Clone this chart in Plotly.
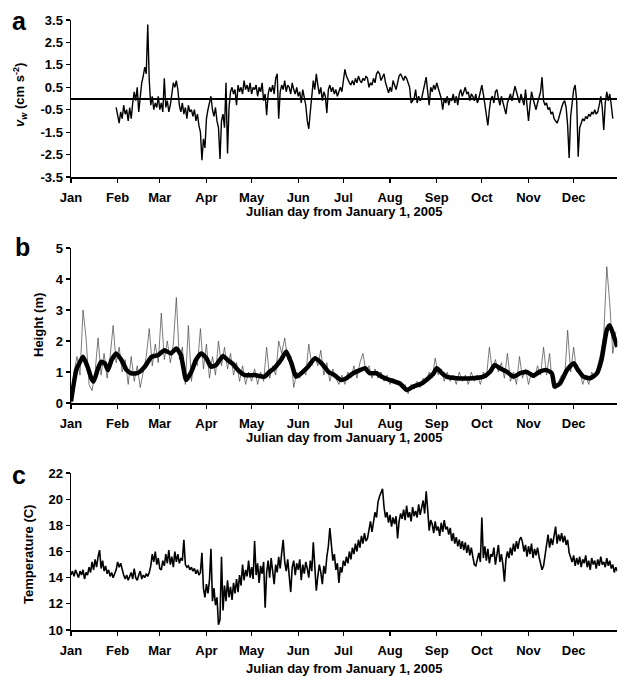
import plotly.graph_objects as go

# ---------------- data ----------------
months = ["Jan", "Feb", "Mar", "Apr", "May", "Jun", "Jul", "Aug", "Sep", "Oct", "Nov", "Dec"]
month_start_days = [0, 31, 59, 90, 120, 151, 181, 212, 243, 273, 304, 334]

# panel a: v_w (cm s^-2), daily values from day 30
vw_start_day = 30
vw_values = [
    -0.4, -0.8, -1.1, -0.6, -0.9, -0.3, -0.7, -0.5, -1.0, -0.4,
    -0.9, -0.2, 0.3, -0.1, 0.5, -0.6, 0.2, 0.7, 1.0, 1.4,
    1.1, 3.3, 0.8, -0.3, 0.1, -0.5, -0.2, -0.4, 0.1, -0.5,
    -0.2, -0.6, 0.9, -0.4, -0.1, -0.6, -0.3, 0.2, 0.7, 0.5,
    0.8, 0.4, -0.3, -0.6, -0.2, -0.7, -0.4, -0.9, -0.3, -0.6,
    -0.5, -0.8, -0.5, -1.0, -0.7, -1.2, -1.5, -2.75, -1.8, -2.2,
    -0.9, -0.5, -0.2, 0.1, -0.5, -0.8, -0.4, -1.0, -1.3, -2.7,
    -1.0, -0.7, -1.3, 0.7, -2.45, -0.4, 0.3, 0.5, 0.2, 0.4,
    -0.3, 0.6, 0.3, 0.5, 0.2, 0.8, 0.4, 0.6, 0.3, 0.7,
    0.2, 0.5, 0.4, 0.6, 0.1, 0.5, 0.3, 0.7, -0.1, 0.2,
    -0.75, 0.2, 0.5, 0.3, 0.6, 0.2, 0.9, 1.1, -0.9, 0.3,
    0.6, 0.4, 0.8, 0.3, 0.6, 0.5, 0.2, 0.7, 0.4, 0.2,
    0.5, 0.1, 0.3, -0.2, 0.4, 0.1, -0.3, -1.0, -1.35, -0.6,
    0.2, 0.8, 0.4, 1.1, 0.6, 0.2, 0.5, -0.1, 0.3, 0.1,
    -0.65, 0.4, 0.6, 0.3, 0.5, 0.2, 0.4, 0.1, 0.3, 0.5,
    0.3, 0.9, 1.3, 1.0, 0.8, 0.7, 0.6, 0.8, 0.6, 0.9,
    0.7, 1.0, 0.8, 0.7, 0.9, 0.8, 1.0, 0.9,
    0.5, 0.7, 0.6, 0.9, 0.7, 1.1, 1.2, 1.1, 0.8, 1.0,
    1.1, 0.7, 0.4, 0.25, 0.5, 0.3, 0.8, 0.6, 0.4, 0.7,
    1.0, 1.1, 0.9, 0.8, 1.0, 0.9, 0.7, 0.5, -0.2, -0.1,
    0.0, 0.4, -0.2, 0.1, -0.1, 0.0, 0.3, 0.7, 0.95, 0.3,
    -0.3, 0.5, 0.3, 0.6, 0.4, 0.7, 0.5, 0.2, 0.0, -0.5,
    0.0, -0.2, 0.1, -0.3, 0.0, -0.1, 0.2, -0.2, 0.1, -0.3,
    0.2, 0.4, 0.1, 0.3, 0.5, 0.2, 0.3, -0.1, 0.2,
    0.1, -0.1, 0.2, -0.2, 0.0, 0.3, 0.6, 0.2, -0.3, -0.6,
    -1.2, -0.5, 0.0, 0.1, -0.2, 0.3, 0.4, 0.0, -0.3, 0.1,
    -0.2, -0.4, -0.7, -0.2, 0.0, 0.2, -0.1, 0.3, 0.55, 0.3,
    0.1, -0.2, 0.2, -0.1, -0.3, 0.4, -0.5, -1.0, -0.3, 0.3,
    0.0, -0.2, -0.5, -0.2, 0.1, 0.3, 0.95, -0.1, -0.3, -0.2,
    -0.5, -0.4, -0.7, -0.6, -0.9, -1.0, -1.1, -0.9, -0.6, -0.4,
    -0.2, -0.1, -0.4, -1.2, -2.65, -0.8, -0.2, 0.4, 0.6, -0.1,
    -2.6, -1.3, -1.1, -0.9, -1.0, -0.8, -0.9, -0.7, -0.8, -0.6,
    -0.7, -0.5, -0.7, -0.6, -0.3, 0.1, -0.4, -1.4, -0.2, 0.3,
    -0.1, 0.2, -0.3, -0.9,
]

# panel b: height (m), raw record every 2 days and smoothed curve
height_step = 2
height_values = [
    0.0, 1.0, 1.5, 0.9, 3.0, 2.1, 0.6, 0.4, 1.0, 2.1,
    0.9, 1.6, 0.8, 1.5, 2.5, 1.3, 1.8, 1.0, 1.4, 0.6,
    1.5, 0.7, 1.2, 0.5, 1.0, 1.5, 2.4, 1.2, 1.9, 1.3,
    2.9, 1.4, 2.0, 1.3, 1.9, 3.4, 1.4, 1.8, 0.6, 2.5,
    0.7, 1.4, 1.2, 2.4, 1.1, 1.9, 0.8, 1.5, 0.9, 2.0,
    1.2, 1.8, 1.1, 1.6, 0.9, 1.3, 0.7, 1.2, 0.6, 1.0,
    0.7, 1.1, 0.6, 1.0, 0.7, 1.8, 0.8, 1.2, 0.9, 2.0,
    1.6, 2.1, 1.4, 1.5, 0.5, 1.0, 0.8, 1.1, 0.9, 1.9,
    1.2, 1.5, 1.2, 1.7, 0.9, 1.3, 0.7, 1.1, 0.8, 0.6,
    0.9, 0.6, 1.0, 0.8, 1.2, 0.8, 1.3, 1.6, 1.0, 1.2,
    0.8, 1.1, 0.8, 1.0, 0.7, 0.9, 0.6, 0.8, 0.6, 0.7,
    0.5, 0.6, 0.3, 0.6, 0.45, 0.7, 0.5, 0.8, 0.7, 1.0,
    0.8, 1.45, 0.9, 1.1, 0.7, 1.0, 0.7, 0.9, 0.6, 1.0,
    0.7, 0.9, 0.6, 1.0, 0.7, 0.9, 0.6, 1.0, 0.8, 1.8,
    1.0, 1.4, 1.0, 1.3, 0.8, 1.6, 0.7, 1.0, 0.6, 1.5,
    0.8, 1.1, 0.6, 1.0, 0.8, 1.2, 0.9, 1.8, 0.9, 1.6,
    0.5, 0.45, 0.7, 0.9, 0.8, 2.35, 1.0, 1.8, 1.0, 1.1,
    0.6, 0.9, 0.6, 1.0, 0.8, 1.2, 1.6, 2.2, 4.4, 3.2,
    1.6, 2.3,
]
height_smooth_days = [
    0, 3.5, 6, 8, 11, 13.5, 15, 18, 20, 22.5,
    24.5, 27, 30, 33.5, 37, 40, 43.5, 45.5, 49, 53.5,
    58, 62, 66.5, 70, 73, 76.5, 80, 83, 86.5, 90,
    93, 96.5, 101, 104, 107.5, 111, 115.5, 122, 128.5, 132,
    135, 139.5, 143, 146.5, 149.5, 153, 157.5, 162, 166.5, 171,
    175, 179.5, 183, 187.5, 192, 195.5, 198.5, 203, 206.5, 212,
    218.5, 223, 227.5, 233, 237.5, 241, 243, 246.5, 249.5, 256,
    267, 274, 278.5, 281.5, 285, 289.5, 294, 298.5, 303, 307,
    311.5, 316, 319.5, 321.5, 325, 329.5, 334, 337, 340.5, 345,
    349.5, 352.5, 356, 358, 361.5, 363,
]
height_smooth_values = [
    0.05, 1.06, 1.33, 1.49, 1.17, 0.80, 0.69, 1.12, 1.33, 1.28,
    1.06, 1.39, 1.60, 1.39, 1.06, 0.96, 0.96, 1.00, 1.17, 1.49,
    1.55, 1.70, 1.60, 1.76, 1.55, 0.74, 1.01, 1.39, 1.60, 1.44,
    1.17, 1.23, 1.52, 1.39, 1.26, 1.06, 0.90, 0.90, 0.85, 1.01,
    1.12, 1.39, 1.66, 1.28, 0.85, 0.96, 1.17, 1.44, 1.28, 1.01,
    0.90, 0.74, 0.80, 0.96, 1.06, 1.12, 0.96, 0.96, 0.85, 0.74,
    0.63, 0.42, 0.53, 0.63, 0.80, 0.96, 1.12, 0.96, 0.85, 0.80,
    0.80, 0.85, 1.01, 1.23, 1.12, 1.01, 0.85, 0.96, 1.00, 0.88,
    1.01, 1.06, 0.96, 0.53, 0.63, 1.06, 1.28, 1.06, 0.85, 0.80,
    0.96, 1.39, 2.35, 2.51, 2.03, 1.81,
]

# panel c: temperature (C), daily from day 0
temp_start_day = 0
temp_values = [
    14.2, 14.5, 14.1, 14.6, 14.3, 14.0, 14.5, 14.2, 14.6, 13.9,
    14.4, 14.2, 14.8, 14.4, 15.2, 14.6, 15.4, 14.8, 15.6, 16.1,
    14.7, 15.3, 14.5, 14.9, 14.3, 14.6, 14.1, 14.4, 14.0, 14.3,
    14.6, 15.2, 14.8, 15.1, 14.5, 14.2, 13.9, 14.2, 13.8, 14.1,
    14.4, 13.9, 14.7, 14.0, 13.8, 14.2, 14.5, 13.9, 14.2, 14.0,
    14.3, 14.1, 14.4, 14.9, 15.8, 15.2, 16.0, 15.0, 15.5, 14.7,
    14.6, 15.3, 14.9, 15.8, 15.1, 16.1, 15.0, 15.6, 14.8, 16.0,
    15.2, 15.8, 15.1, 15.5, 15.3, 16.9, 15.0, 14.8, 14.9, 14.6,
    14.8, 14.5, 14.7, 14.3, 14.6, 14.2, 14.4, 15.9, 13.2, 12.5,
    13.5, 12.8, 13.8, 16.2, 12.2, 13.2, 11.9, 12.5, 10.4, 10.8,
    15.6, 11.5, 13.4, 12.2, 13.8, 12.5, 13.3, 12.3, 13.6, 12.8,
    13.9, 12.9, 14.2, 13.4, 15.0, 13.8, 14.6, 14.1, 15.3, 14.0,
    14.8, 13.9, 16.8, 14.2, 15.1, 13.6, 14.9, 14.3, 15.2, 11.7,
    14.4, 15.3, 14.0, 15.5, 14.6, 13.5, 15.0, 14.4, 15.6, 14.7,
    15.9, 16.9, 15.2, 14.5, 15.4, 14.1, 12.9, 14.8, 15.3, 14.2,
    15.1, 14.6, 15.4, 13.8, 15.0, 14.3, 15.2, 14.7, 14.0, 15.3,
    14.5, 16.7, 14.8, 13.0, 14.1, 15.0, 14.4, 13.5, 14.9, 14.3,
    15.6, 16.4, 17.8, 16.2, 15.3, 15.8, 14.6, 15.1, 13.6, 14.8,
    14.4, 15.3, 14.9, 15.6, 15.1, 16.0, 15.4, 16.3, 15.8, 16.6,
    16.0, 16.9, 16.3, 17.2, 16.6, 17.4, 16.8, 17.0, 17.6, 18.3,
    17.5, 18.4, 19.0, 18.6, 19.8, 20.2, 20.5, 20.8, 19.4, 18.6,
    19.0, 18.2, 18.8, 17.9, 18.6, 18.1, 18.7, 17.0, 18.3, 18.9,
    18.5, 19.2, 18.4, 19.5, 18.6, 19.0, 18.3, 19.4, 18.7, 19.1,
    18.6, 19.6, 18.8, 19.3, 19.9, 18.9, 20.6, 19.2, 17.6, 18.4,
    18.1, 17.4, 18.3, 17.6, 17.9, 17.2, 18.2, 17.5, 18.4, 17.7,
    17.9, 17.3, 17.8, 16.8, 17.4, 16.6, 17.1, 16.4, 16.9, 16.2,
    16.8, 16.1, 16.7, 15.9, 16.5, 15.7, 16.3, 15.6, 15.0, 14.9,
    15.4, 15.9, 15.2, 18.6, 15.5, 16.4, 15.3, 16.2, 15.1, 15.8,
    15.6, 16.3, 15.0, 15.9, 16.5, 15.2, 15.8, 15.0, 13.7, 15.4,
    16.0, 15.5, 16.3, 15.7, 16.6, 16.0, 16.8, 16.2, 16.9, 17.1,
    16.7, 16.0, 16.5, 15.6, 16.4, 15.8, 16.6, 15.5, 16.2, 15.7,
    16.3, 15.6, 15.2, 14.6, 14.9, 15.8, 16.5, 17.3, 16.3, 17.0,
    16.5, 17.2, 17.9, 16.6, 17.3, 16.8, 17.4, 16.7, 17.2, 16.5,
    16.9, 15.9, 15.6, 15.2, 15.7, 14.9, 15.5, 15.0, 15.6, 14.8,
    15.4, 15.1, 15.7, 14.8, 15.3, 14.6, 15.5, 15.0, 15.3, 14.7,
    15.4, 14.9, 15.6, 15.0, 15.2, 14.8, 15.5, 14.9, 15.3, 14.7,
    15.0, 14.4, 14.8, 14.5,
]

assert len(height_smooth_days) == len(height_smooth_values)

# ---------------- figure ----------------
W, H = 618, 677
FONT = "Liberation Sans, Arial, sans-serif"


def fx(p):
    return p / W


def fy(p):
    return 1 - p / H


vw_days = [vw_start_day + i for i in range(len(vw_values))]
height_days = [i * height_step for i in range(len(height_values))]
temp_days = [temp_start_day + i for i in range(len(temp_values))]

fig = go.Figure()
fig.add_trace(go.Scatter(x=vw_days, y=vw_values, mode="lines",
                         line=dict(color="black", width=1.4),
                         xaxis="x", yaxis="y", showlegend=False))
fig.add_trace(go.Scatter(x=height_days, y=height_values, mode="lines",
                         line=dict(color="#444444", width=0.7),
                         xaxis="x2", yaxis="y2", showlegend=False))
fig.add_trace(go.Scatter(x=height_smooth_days, y=height_smooth_values, mode="lines",
                         line=dict(color="black", width=4.5, shape="spline", smoothing=0.5),
                         xaxis="x2", yaxis="y2", showlegend=False))
fig.add_trace(go.Scatter(x=temp_days, y=temp_values, mode="lines",
                         line=dict(color="black", width=1.6),
                         xaxis="x3", yaxis="y3", showlegend=False))

tickfont = dict(family=FONT, size=13, color="black", weight="bold")
xdom = [fx(71), fx(617.3)]


def xaxis_cfg(anchor):
    return dict(domain=xdom, range=[0, 363], anchor=anchor,
                tickmode="array", tickvals=month_start_days, ticktext=months,
                ticks="outside", ticklen=4, tickwidth=1.2, tickcolor="black",
                showline=True, linecolor="black", linewidth=1.5,
                showgrid=False, zeroline=False, tickfont=tickfont,
                ticklabelstandoff=4, automargin=False)


def yaxis_cfg(anchor, dom, rng, tickvals, ticktext=None, zl=False):
    d = dict(domain=dom, range=rng, anchor=anchor,
             tickmode="array", tickvals=tickvals,
             ticks="outside", ticklen=4, tickwidth=1.2, tickcolor="black",
             showline=True, linecolor="black", linewidth=1.5,
             showgrid=False, tickfont=tickfont, automargin=False,
             zeroline=zl, zerolinecolor="black", zerolinewidth=2)
    if ticktext is not None:
        d["ticktext"] = ticktext
    return d


vw_ticks = [-3.5, -2.5, -1.5, -0.5, 0.5, 1.5, 2.5, 3.5]
fig.update_layout(
    width=W, height=H, template="none",
    paper_bgcolor="white", plot_bgcolor="white",
    margin=dict(l=0, r=0, t=0, b=0),
    showlegend=False,
    xaxis=xaxis_cfg("y"),
    xaxis2=xaxis_cfg("y2"),
    xaxis3=xaxis_cfg("y3"),
    yaxis=yaxis_cfg("x", [fy(177), fy(20)], [-3.5, 3.5], vw_ticks,
                    [f"{v:.1f}" for v in vw_ticks], zl=True),
    yaxis2=yaxis_cfg("x2", [fy(403), fy(248)], [0, 5], [0, 1, 2, 3, 4, 5]),
    yaxis3=yaxis_cfg("x3", [fy(630), fy(473)], [10, 22], [10, 12, 14, 16, 18, 20, 22]),
)

ann_font = dict(family=FONT, size=13, color="black", weight="bold")
letter_font = dict(family=FONT, size=25, color="black", weight="bold")
xtitle = "Julian day from January 1, 2005"
annotations = [
    dict(text=xtitle, x=fx(344), y=fy(211), font=ann_font),
    dict(text=xtitle, x=fx(344), y=fy(437), font=ann_font),
    dict(text=xtitle, x=fx(344), y=fy(668), font=ann_font),
    dict(text="<i>v<sub>w</sub></i> (cm s<sup>-2</sup>)", x=fx(20), y=fy(95),
         textangle=-90, font=ann_font),
    dict(text="Height (m)", x=fx(38), y=fy(325), textangle=-90, font=ann_font),
    dict(text="Temperature (C)", x=fx(28), y=fy(555), textangle=-90, font=ann_font),
    dict(text="a", x=fx(19), y=fy(21), font=letter_font),
    dict(text="b", x=fx(22), y=fy(247), font=letter_font),
    dict(text="c", x=fx(19), y=fy(475), font=letter_font),
]
for a in annotations:
    a.update(xref="paper", yref="paper", showarrow=False,
             xanchor="center", yanchor="middle")
fig.update_layout(annotations=annotations)

fig.write_html("out.html",
               config={"displayModeBar": False, "staticPlot": True},
               post_script="document.body.style.margin='0px';document.body.style.overflow='hidden';")
